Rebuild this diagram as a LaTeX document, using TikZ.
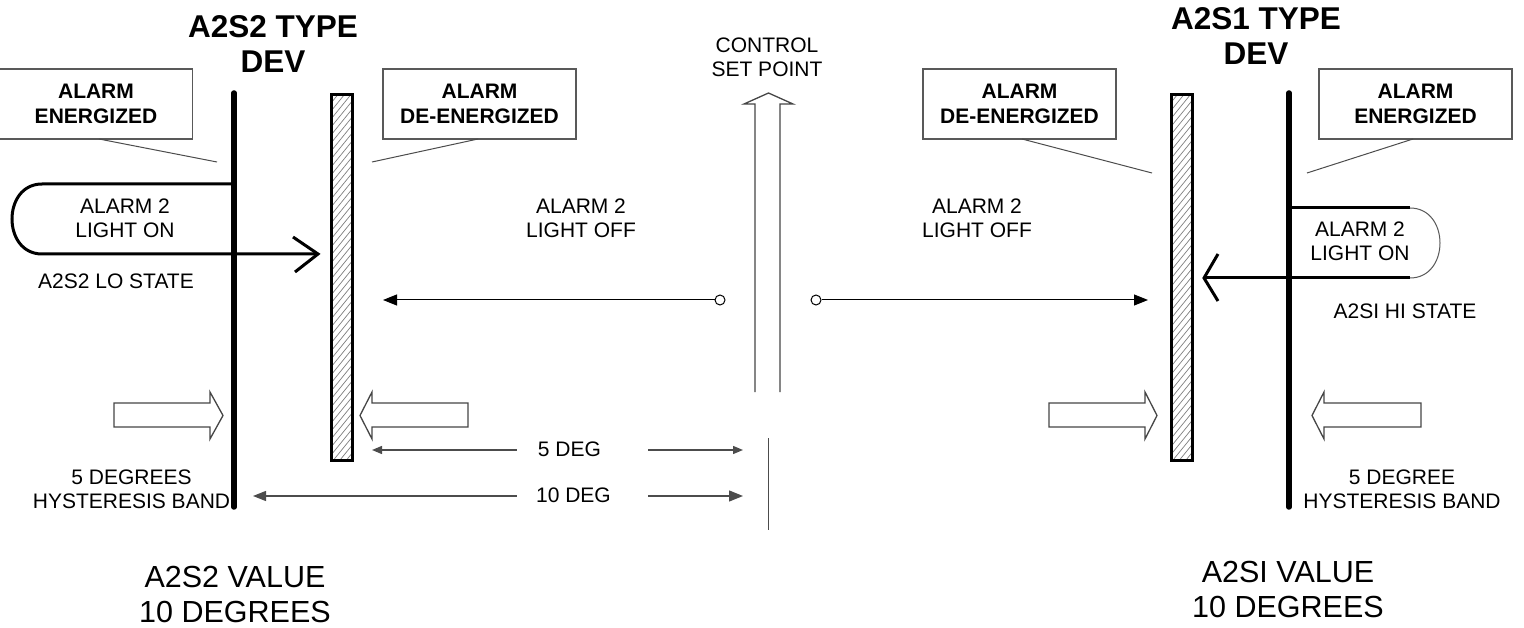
\documentclass[tikz,border=0pt]{standalone}
\usepackage{fontspec}
\setmainfont{Liberation Sans}
\usetikzlibrary{arrows.meta,calc}
\begin{document}
\begin{tikzpicture}[x=1pt,y=-1pt,
  ttl/.style={font=\bfseries\fontsize{31.5}{35}\selectfont, align=center, inner sep=0},
  bx/.style={draw=gray!70!black, line width=1.2, minimum width=193, minimum height=70, inner sep=0, align=center, font=\bfseries\fontsize{21}{24.5}\selectfont},
  lbl/.style={font=\fontsize{21}{24}\selectfont, align=center, inner sep=0},
  big/.style={font=\fontsize{30.5}{35}\selectfont, align=center, inner sep=0},
  leader/.style={draw=gray!60!black, line width=1},
  devline/.style={line width=5.5, line cap=round},
  loopline/.style={line width=3},
  hollow/.style={draw=gray!55!black, line width=1.3, fill=white},
  dimline/.style={draw=gray!60!black, line width=1.3},
  hatchbar/.style={draw, line width=3, minimum width=21, minimum height=366, inner sep=0,
    path picture={\foreach \k in {-40,-32,...,400}
      \draw[gray, line width=0.7] ($(path picture bounding box.north west)+(0,\k)$) -- ++(26,-32);}},
  dot/.style={circle, draw, line width=1, inner sep=0, minimum size=10, fill=white},
]
\useasboundingbox[fill=white] (0,0) rectangle (1524,628);

% titles
\node[ttl] (tL) at (273,44) {A2S2 TYPE\\DEV};
\node[ttl] (tR) at (1256,36) {A2S1 TYPE\\DEV};

% boxes
\node[bx] (eL) at (96,104) {ALARM\\ENERGIZED};
\node[bx] (dL) at (479.5,104) {ALARM\\DE-ENERGIZED};
\node[bx] (dR) at (1019.5,104) {ALARM\\DE-ENERGIZED};
\node[bx] (eR) at (1415.5,104) {ALARM\\ENERGIZED};

% leaders
\coordinate (l1a) at (99,139);   \coordinate (l1b) at (217,162);
\coordinate (l2a) at (478,139);  \coordinate (l2b) at (372,162);
\coordinate (l3a) at (1022,139); \coordinate (l3b) at (1152,173);
\coordinate (l4a) at (1413,139); \coordinate (l4b) at (1307,173);
\draw[leader] (l1a) -- (l1b);
\draw[leader] (l2a) -- (l2b);
\draw[leader] (l3a) -- (l3b);
\draw[leader] (l4a) -- (l4b);

% device lines
\coordinate (vLt) at (234,93); \coordinate (vLb) at (234,507);
\coordinate (vRt) at (1289,93); \coordinate (vRb) at (1289,507);
\draw[devline] (vLt) -- (vLb);
\draw[devline] (vRt) -- (vRb);

% hatched bars
\node[hatchbar] (hL) at (342,277.5) {};
\node[hatchbar] (hR) at (1181.5,277.5) {};

% left loop
\coordinate (lpL) at (234,184);
\coordinate (tipL) at (318,254);
\draw[loopline] (lpL) -- (42,184) .. controls (2,184) and (2,254) .. (42,254) -- (tipL);
\draw[loopline] (293,237) -- (tipL) -- (295,272);

% right loop
\coordinate (lpR) at (1289,208);
\coordinate (tipR) at (1204,278);
\draw[loopline] (lpR) -- (1410,208);
\draw[gray!70!black, line width=1] (1410,208) .. controls (1450,208) and (1450,278) .. (1410,278);
\draw[loopline] (1410,278) -- (tipR);
\draw[loopline] (1218,254) -- (tipR) -- (1218,301);

% labels
\node[lbl] (onL) at (125,218.5) {ALARM 2\\LIGHT ON};
\node[lbl] (loS) at (116,281.5) {A2S2 LO STATE};
\node[lbl] (offL) at (581,218) {ALARM 2\\LIGHT OFF};
\node[lbl] (offR) at (977,218) {ALARM 2\\LIGHT OFF};
\node[lbl] (csp) at (767,57) {CONTROL\\SET POINT};
\node[lbl] (onR) at (1360,241) {ALARM 2\\LIGHT ON};
\node[lbl] (hiS) at (1405,311) {A2SI HI STATE};
\node[lbl] (hyL) at (131.5,489) {5 DEGREES\\HYSTERESIS BAND};
\node[lbl] (hyR) at (1402,489) {5 DEGREE\\HYSTERESIS BAND};
\node[big] (vL) at (235,594) {A2S2 VALUE\\10 DEGREES};
\node[big] (vR) at (1288,589) {A2SI VALUE\\10 DEGREES};
\node[lbl] (d5) at (569.5,449.5) {5 DEG};
\node[lbl] (d10) at (573.5,495.5) {10 DEG};

% middle arrows from set point
\node[dot] (oL) at (720,300) {};
\node[dot] (oR) at (816,300) {};
\coordinate (aL) at (383,300);
\coordinate (aR) at (1148,300);
\draw[line width=1, -{Triangle[length=14pt,width=11pt]}] (oL) -- (aL);
\draw[line width=1, -{Triangle[length=14pt,width=11pt]}] (oR) -- (aR);

% set point hollow arrow
\draw[hollow, fill=none] (755,392) -- (755,104) -- (744,104) -- (768.5,93) -- (793,104) -- (780,104) -- (780,392);

% dimension lines
\coordinate (d5a) at (372,450); \coordinate (d5b) at (517,450);
\coordinate (d5c) at (648,450); \coordinate (d5d) at (743,450);
\coordinate (d10a) at (253,496); \coordinate (d10b) at (517,496);
\coordinate (d10c) at (648,496); \coordinate (d10d) at (743,496);
\draw[dimline, {Triangle[length=10pt,width=8pt]}-] (d5a) -- (d5b);
\draw[dimline, -{Triangle[length=10pt,width=8pt]}] (d5c) -- (d5d);
\draw[dimline, {Triangle[length=13pt,width=10pt]}-] (d10a) -- (d10b);
\draw[dimline, -{Triangle[length=14pt,width=11pt]}] (d10c) -- (d10d);
\coordinate (spt) at (768,438); \coordinate (spb) at (768,530);
\draw[dimline, line width=1] (spt) -- (spb);

% hysteresis hollow arrows
\draw[hollow] (114,403) -- (210,403) -- (210,392) -- (223,415.5) -- (210,439) -- (210,427) -- (114,427) -- cycle;
\draw[hollow] (468,403) -- (372,403) -- (372,392) -- (360,415.5) -- (372,439) -- (372,427) -- (468,427) -- cycle;
\draw[hollow] (1049,403) -- (1145,403) -- (1145,392) -- (1157,415.5) -- (1145,439) -- (1145,427) -- (1049,427) -- cycle;
\draw[hollow] (1421,403) -- (1324,403) -- (1324,392) -- (1312,415.5) -- (1324,439) -- (1324,427) -- (1421,427) -- cycle;
\end{tikzpicture}
\end{document}
